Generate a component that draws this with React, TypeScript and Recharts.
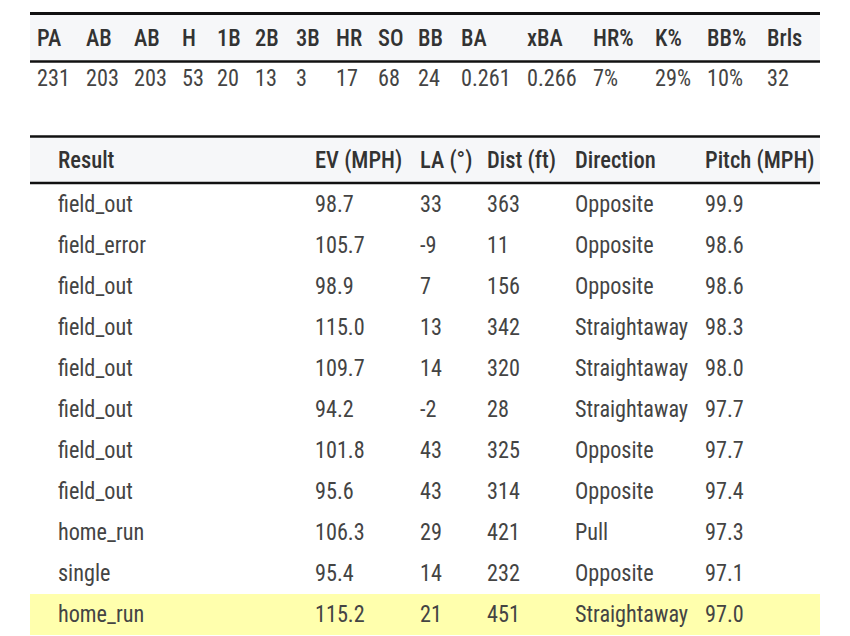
import {
  ReferenceArea,
  ReferenceLine,
  Scatter,
  ScatterChart,
  XAxis,
  YAxis,
} from "recharts";

const summaryHeaders = ["PA", "AB", "AB", "H", "1B", "2B", "3B", "HR", "SO", "BB", "BA", "xBA", "HR%", "K%", "BB%", "Brls"];
const summaryValues = ["231", "203", "203", "53", "20", "13", "3", "17", "68", "24", "0.261", "0.266", "7%", "29%", "10%", "32"];

const resultHeaders = ["Result", "EV (MPH)", "LA (°)", "Dist (ft)", "Direction", "Pitch (MPH)"];
const results = ["field_out", "field_error", "field_out", "field_out", "field_out", "field_out", "field_out", "field_out", "home_run", "single", "home_run"];
const exitVelo = ["98.7", "105.7", "98.9", "115.0", "109.7", "94.2", "101.8", "95.6", "106.3", "95.4", "115.2"];
const launchAngle = ["33", "-9", "7", "13", "14", "-2", "43", "43", "29", "14", "21"];
const distance = ["363", "11", "156", "342", "320", "28", "325", "314", "421", "232", "451"];
const direction = ["Opposite", "Opposite", "Opposite", "Straightaway", "Straightaway", "Straightaway", "Opposite", "Opposite", "Pull", "Opposite", "Straightaway"];
const pitchSpeed = ["99.9", "98.6", "98.6", "98.3", "98.0", "97.7", "97.7", "97.4", "97.3", "97.1", "97.0"];
const highlightRow = 10;

// layout (page pixels)
const W = 850;
const H = 636;
const LEFT = 30;
const RIGHT = 820;
const summaryCols = [37, 86, 134, 182, 217, 255, 296, 336, 378, 418, 461, 527, 593, 655, 707, 767];
const resultCols = [58, 315, 420, 487, 575, 705];
const ROW_TOP = 184;
const ROW_H = 41;

type Cell = { x: number; y: number; label: string; head?: boolean };

const cells: Cell[] = [];
summaryHeaders.forEach((t, i) => cells.push({ x: summaryCols[i], y: 46, label: t, head: true }));
summaryValues.forEach((t, i) => cells.push({ x: summaryCols[i], y: 86, label: t }));
resultHeaders.forEach((t, i) => cells.push({ x: resultCols[i], y: 168, label: t, head: true }));
results.forEach((r, i) => {
  const row = [r, exitVelo[i], launchAngle[i], distance[i], direction[i], pitchSpeed[i]];
  row.forEach((t, j) =>
    cells.push({ x: resultCols[j], y: ROW_TOP + i * ROW_H + 28, label: t })
  );
});

const TextCell = (props: any) => {
  const { cx, cy, payload } = props;
  return (
    <text
      transform={`translate(${cx},${cy}) scale(${payload.head ? 0.98 : 0.965},1)`}
      fontFamily="'Roboto Condensed', Roboto, sans-serif"
      fontSize={23}
      fontWeight={payload.head ? 500 : 400}
      fill={payload.head ? "#333" : "#444"}
    >
      {payload.label}
    </text>
  );
};

const App = () => {
  return (
    <div style={{ position: "absolute", left: 0, top: 0, background: "#fff" }}>
      <ScatterChart width={W} height={H} margin={{ top: 0, right: 0, bottom: 0, left: 0 }}>
        <XAxis type="number" dataKey="x" domain={[0, W]} hide />
        <YAxis type="number" dataKey="y" domain={[0, H]} reversed hide />
        <ReferenceArea x1={LEFT} x2={RIGHT} y1={15} y2={60} fill="#f6f7f9" fillOpacity={1} stroke="none" />
        <ReferenceArea x1={LEFT} x2={RIGHT} y1={138} y2={182} fill="#f6f7f9" fillOpacity={1} stroke="none" />
        <ReferenceArea
          x1={LEFT}
          x2={RIGHT}
          y1={ROW_TOP + highlightRow * ROW_H}
          y2={ROW_TOP + (highlightRow + 1) * ROW_H}
          fill="#ffffad"
          fillOpacity={1}
          stroke="none"
        />
        <ReferenceLine segment={[{ x: LEFT, y: 13.5 }, { x: RIGHT, y: 13.5 }]} stroke="#111" strokeWidth={3} />
        <ReferenceLine segment={[{ x: LEFT, y: 61.5 }, { x: RIGHT, y: 61.5 }]} stroke="#111" strokeWidth={2.5} />
        <ReferenceLine segment={[{ x: LEFT, y: 136.5 }, { x: RIGHT, y: 136.5 }]} stroke="#111" strokeWidth={2.5} />
        <ReferenceLine segment={[{ x: LEFT, y: 183 }, { x: RIGHT, y: 183 }]} stroke="#111" strokeWidth={2.5} />
        <Scatter data={cells} shape={TextCell} isAnimationActive={false} />
      </ScatterChart>
    </div>
  );
};

export default App;
